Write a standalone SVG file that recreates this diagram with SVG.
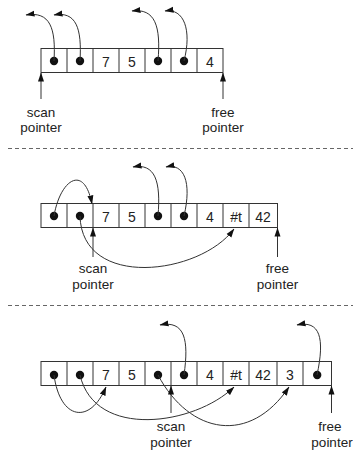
<svg xmlns="http://www.w3.org/2000/svg" width="353" height="455" viewBox="0 0 353 455">
  <style>
    .cell { fill: #fff; stroke: #333; stroke-width: 1; }
    .sep { stroke: #333; stroke-width: 1; }
    .dot { fill: #111; }
    .num { font-family: "Liberation Sans", Arial, sans-serif; font-size: 14px; fill: #222; text-anchor: middle; }
    .lbl { font-family: "Liberation Sans", Arial, sans-serif; font-size: 13.5px; fill: #222; text-anchor: middle; }
    .link { fill: none; stroke: #333; stroke-width: 1; marker-end: url(#ah); }
    .divider { stroke: #666; stroke-width: 1; stroke-dasharray: 4 3; }
  </style>
  <defs>
    <marker id="ah" markerWidth="9" markerHeight="7" refX="8.5" refY="3.5" orient="auto" markerUnits="userSpaceOnUse">
      <path d="M0,0.5 L9,3.5 L0,6.5 z" fill="#111"/>
    </marker>
  </defs>

  <rect width="353" height="455" fill="#fff"/>

  <!-- section dividers -->
  <line class="divider" x1="8" y1="148.5" x2="353" y2="148.5"/>
  <line class="divider" x1="8" y1="305.5" x2="353" y2="305.5"/>

  <!-- memory row 1 -->
  <g id="row1">
    <rect class="cell" x="41" y="48.5" width="182" height="24"/>
    <path class="sep" d="M67,48.5V72.5 M93,48.5V72.5 M119,48.5V72.5 M145,48.5V72.5 M171,48.5V72.5 M197,48.5V72.5"/>
    <circle class="dot" cx="54" cy="61" r="4.2"/>
    <circle class="dot" cx="80" cy="61" r="4.2"/>
    <text class="num" x="106" y="66.5">7</text>
    <text class="num" x="132" y="66.5">5</text>
    <circle class="dot" cx="158" cy="61" r="4.2"/>
    <circle class="dot" cx="184" cy="61" r="4.2"/>
    <text class="num" x="210" y="66.5">4</text>
  </g>
  <g id="scan1"><text class="lbl" x="41" y="117">scan</text><text class="lbl" x="41" y="132">pointer</text></g>
  <g id="free1"><text class="lbl" x="223" y="117">free</text><text class="lbl" x="223" y="132">pointer</text></g>

  <!-- memory row 2 -->
  <g id="row2">
    <rect class="cell" x="41" y="203.5" width="236.5" height="24"/>
    <path class="sep" d="M67,203.5V227.5 M93,203.5V227.5 M119,203.5V227.5 M145,203.5V227.5 M171,203.5V227.5 M197,203.5V227.5 M223,203.5V227.5 M249,203.5V227.5"/>
    <circle class="dot" cx="54" cy="216" r="4.2"/>
    <circle class="dot" cx="80" cy="216" r="4.2"/>
    <text class="num" x="106" y="221.5">7</text>
    <text class="num" x="132" y="221.5">5</text>
    <circle class="dot" cx="158" cy="216" r="4.2"/>
    <circle class="dot" cx="184" cy="216" r="4.2"/>
    <text class="num" x="210" y="221.5">4</text>
    <text class="num" x="236" y="221.5">#t</text>
    <text class="num" x="263" y="221.5">42</text>
  </g>
  <g id="scan2"><text class="lbl" x="93" y="273">scan</text><text class="lbl" x="93" y="289">pointer</text></g>
  <g id="free2"><text class="lbl" x="277.5" y="273">free</text><text class="lbl" x="277.5" y="289">pointer</text></g>

  <!-- memory row 3 -->
  <g id="row3">
    <rect class="cell" x="41" y="361.5" width="290.5" height="24"/>
    <path class="sep" d="M67,361.5V385.5 M93,361.5V385.5 M119,361.5V385.5 M145,361.5V385.5 M171,361.5V385.5 M197,361.5V385.5 M223,361.5V385.5 M249,361.5V385.5 M277,361.5V385.5 M303,361.5V385.5"/>
    <circle class="dot" cx="54" cy="375" r="4.2"/>
    <circle class="dot" cx="80" cy="375" r="4.2"/>
    <text class="num" x="106" y="379.5">7</text>
    <text class="num" x="132" y="379.5">5</text>
    <circle class="dot" cx="158" cy="375" r="4.2"/>
    <circle class="dot" cx="184" cy="375" r="4.2"/>
    <text class="num" x="210" y="379.5">4</text>
    <text class="num" x="236" y="379.5">#t</text>
    <text class="num" x="263" y="379.5">42</text>
    <text class="num" x="290" y="379.5">3</text>
    <circle class="dot" cx="317.2" cy="375" r="4.2"/>
  </g>
  <g id="scan3"><text class="lbl" x="171" y="431">scan</text><text class="lbl" x="171" y="447">pointer</text></g>
  <g id="free3"><text class="lbl" x="330" y="431">free</text><text class="lbl" x="332" y="447">pointer</text></g>

  <!-- pointers between cells, plus scan/free markers -->
  <g id="connectors">
    <!-- row 1 -->
    <path class="link" d="M54,61 C56,28 50,11 26,15"/>
    <path class="link" d="M80,61 C82,28 76,11 54,15"/>
    <path class="link" d="M158,61 C161,26 155,8 132,11"/>
    <path class="link" d="M184,61 C192,30 184,8 165,11"/>
    <path class="link" d="M41,99 V73"/>
    <path class="link" d="M223,99 V73"/>
    <!-- row 2 -->
    <path class="link" d="M54,216 C60,180 84,163 92,204"/>
    <path class="link" d="M80,216 C82,290 200,275 234,229"/>
    <path class="link" d="M158,216 C161,181 155,163 133,167"/>
    <path class="link" d="M184,216 C192,182 184,163 166,167"/>
    <path class="link" d="M93,257 V228"/>
    <path class="link" d="M277.5,257 V228"/>
    <!-- row 3 -->
    <path class="link" d="M54,375 C60,420 90,425 106,387"/>
    <path class="link" d="M80,375 C95,440 195,425 234,387"/>
    <path class="link" d="M158,375 C190,435 250,445 289,387"/>
    <path class="link" d="M184,375 C189,340 185,320 160,325"/>
    <path class="link" d="M317,375 C325,338 320,320 297,325"/>
    <path class="link" d="M171,413 V386"/>
    <path class="link" d="M331.5,413 V386"/>
  </g>
</svg>
